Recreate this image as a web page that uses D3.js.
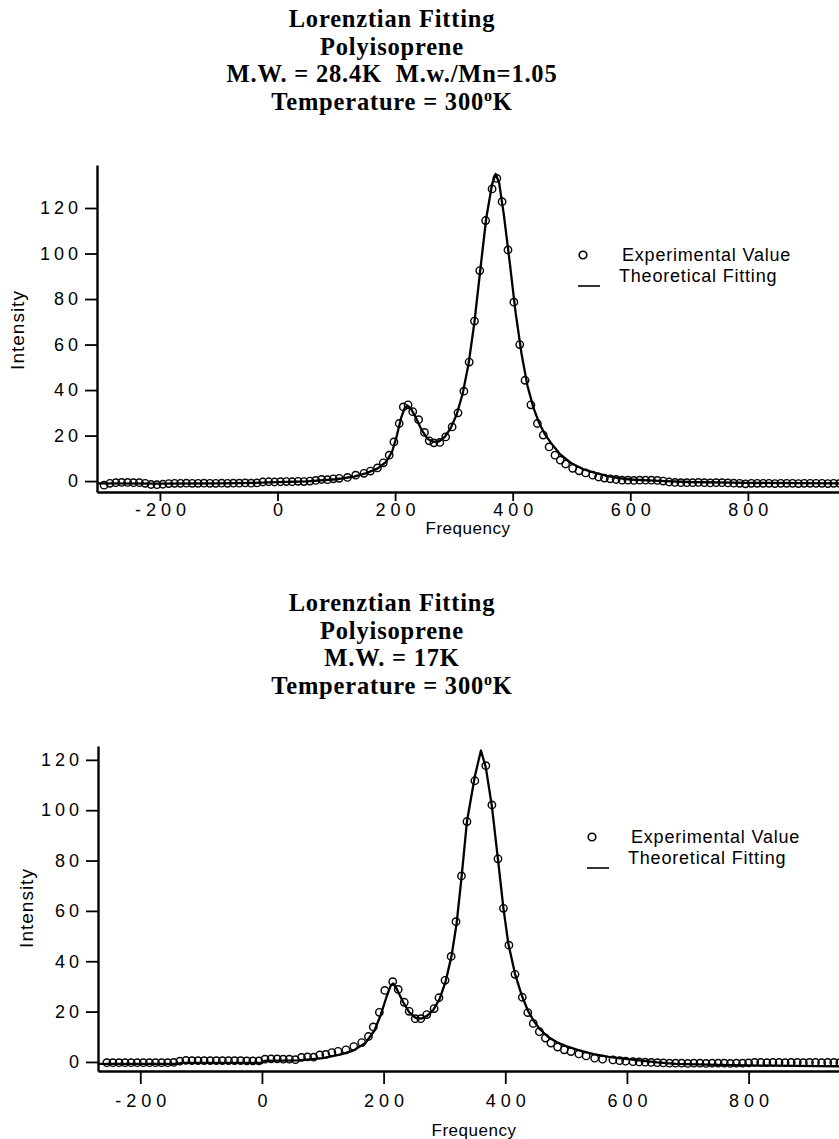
<!DOCTYPE html>
<html>
<head>
<meta charset="utf-8">
<script src="https://cdn.jsdelivr.net/npm/d3@7"></script>
<style>
  body { margin: 0; background: #fff; }
  svg text { font-family: "Liberation Sans", Arial, Helvetica, sans-serif; fill: #000; }
  svg .title text { font-family: "Liberation Serif", "Times New Roman", serif; font-weight: bold; font-size: 24.5px; letter-spacing: 0.8px; }
</style>
</head>
<body>
<svg id="fig" width="839" height="1139"></svg>
<script>
// ── Data ────────────────────────────────────────────────────────────────────
var X_TICKS = [-200, 0, 200, 400, 600, 800];
var Y_TICKS = [0, 20, 40, 60, 80, 100, 120];

var TOP_TITLE = ["Lorenztian Fitting", "Polyisoprene", "M.W. = 28.4K \u00a0M.w./Mn=1.05", "Temperature = 300"];
var BOT_TITLE = ["Lorenztian Fitting", "Polyisoprene", "M.W. = 17K", "Temperature = 300"];

var LEGEND_LABELS = ["Experimental Value", "Theoretical Fitting"];

// top panel: M.W. = 28.4K
var TOP_EXP_F = [
  -295,-285,-275,-265,-255,-245,-235,-225,-215,-205,
  -195,-185,-175,-165,-155,-145,-135,-125,-115,-105,
  -95,-85,-75,-65,-55,-45,-35,-25,-15,-5,
  5,15,25,35,45,55,65,75,85,95,
  105,119,133,147,158,170,180,190,198,207,
  214,222,230,240,250,258,266,276,286,297,
  307,317,326,335,344,354,365,373,382,392,
  402,412,421,431,442,452,462,472,481,490,
  502,513,524,536,546,556,566,576,586,596,
  606,616,626,636,646,656,666,676,686,696,
  706,716,726,736,746,756,766,776,786,796,
  806,816,826,836,846,856,866,876,886,896,
  906,916,926,936,946,956
];
var TOP_EXP_I = [
  -1.8,-1.0,-0.7,-0.6,-0.6,-0.7,-0.7,-1.0,-1.5,-1.6,
  -1.4,-1.1,-1.0,-1.0,-0.9,-1.0,-1.0,-0.9,-1.0,-1.0,
  -0.9,-1.0,-0.9,-0.9,-0.8,-0.9,-0.8,-0.4,-0.3,-0.4,
  -0.3,-0.2,-0.3,-0.1,-0.2,0.0,0.3,0.7,0.6,1.0,
  1.2,1.6,2.6,3.4,4.4,5.8,8.0,11.4,17.2,25.3,
  32.6,33.5,30.5,27.0,21.4,17.7,16.8,17.0,19.4,23.8,
  30.0,39.5,52.3,70.3,92.5,114.5,128.4,133.0,122.8,101.6,
  78.6,60.0,44.3,33.5,25.3,20.2,15.0,11.4,9.2,7.5,
  5.6,4.5,3.6,2.6,1.8,1.3,1.0,0.7,0.4,0.4,
  0.3,0.4,0.4,0.4,0.3,0.0,-0.4,-0.6,-0.7,-0.7,
  -0.7,-0.6,-0.7,-0.8,-0.7,-0.7,-0.8,-0.9,-1.0,-1.2,
  -1.0,-1.0,-1.0,-1.0,-1.1,-1.0,-1.0,-1.0,-1.1,-1.0,
  -1.0,-1.0,-1.0,-1.1,-1.0,-1.0
];
var TOP_FIT_F = [
  -307,-200,-100,-40,0,50,100,130,150,170,
  185,195,203,210,216,221,227,235,245,255,
  265,275,285,295,305,315,325,335,345,355,
  365,371,377,385,395,405,415,425,435,445,
  455,465,480,500,520,540,560,580,600,630,
  660,700,800,955
];
var TOP_FIT_I = [
  -1.0,-1.1,-1.0,-0.8,-0.5,-0.1,0.8,2.0,3.4,5.5,
  8.5,13.0,20.0,27.5,32.0,33.2,31.8,28.0,22.5,18.6,
  17.2,17.5,19.5,23.5,29.5,38.5,51.5,70.0,93.0,115.5,
  130.5,135.0,131.0,117.0,96.0,74.0,56.0,42.0,32.5,25.5,
  20.5,16.8,12.0,7.8,5.2,3.6,2.3,1.3,0.7,0.3,
  0.0,-0.4,-0.8,-1.0
];

// bottom panel: M.W. = 17K
var BOT_EXP_F = [
  -255,-245,-235,-225,-215,-205,-195,-185,-175,-165,
  -155,-145,-135,-125,-115,-105,-95,-85,-75,-65,
  -55,-45,-35,-25,-15,-5,5,15,25,35,
  45,55,65,75,85,95,105,115,125,138,
  151,164,175,183,193,202,215,224,234,242,
  252,261,271,283,291,301,311,319,328,337,
  350,368,378,388,397,406,416,428,437,446,
  456,466,475,486,497,508,521,533,547,560,
  577,588,598,610,620,630,640,650,660,670,
  680,690,700,710,720,730,740,750,760,770,
  780,790,800,810,820,830,840,850,860,870,
  880,890,900,910,920,930,940,950
];
var BOT_EXP_I = [
  -0.3,-0.3,-0.3,-0.3,-0.3,-0.3,-0.3,-0.3,-0.3,-0.3,
  -0.3,-0.2,0.3,0.6,0.5,0.5,0.5,0.5,0.5,0.5,
  0.5,0.5,0.5,0.4,0.4,0.4,1.1,1.2,1.2,1.1,
  1.1,0.9,1.8,2.0,1.9,2.8,3.0,3.7,4.2,4.8,
  6.1,7.7,10.1,13.9,19.7,28.4,31.9,28.8,23.7,20.1,
  17.2,17.2,18.8,21.2,25.5,32.4,41.9,55.7,73.9,95.5,
  111.7,117.7,102.1,80.7,61.0,46.4,34.8,25.7,19.6,15.3,
  12.0,9.5,7.5,5.9,4.8,4.1,3.2,2.4,1.5,1.1,
  0.8,0.5,0.3,0.1,0.0,-0.1,-0.2,-0.3,-0.4,-0.5,
  -0.5,-0.5,-0.6,-0.5,-0.5,-0.6,-0.5,-0.5,-0.5,-0.6,
  -0.5,-0.5,-0.4,-0.2,-0.2,-0.3,-0.2,-0.2,-0.3,-0.2,
  -0.2,-0.3,-0.2,-0.2,-0.3,-0.2,-0.2,-0.3
];
var BOT_FIT_F = [
  -270,-140,-132,0,4,60,100,130,150,170,
  185,195,205,212,216,222,232,242,252,262,
  272,282,292,302,312,320,328,337,350,360,
  368,378,388,397,405,416,427,437,447,457,
  470,485,500,520,545,570,590,620,650,680,
  750,850,949
];
var BOT_FIT_I = [
  -0.8,-0.8,-0.4,-0.4,0.4,0.6,1.5,3.0,4.5,7.5,
  12.5,18.5,26.0,30.5,31.2,28.8,23.8,19.8,17.6,17.2,
  18.4,20.8,25.0,32.0,42.5,55.0,73.0,95.5,113.5,123.7,
  117.0,101.5,80.5,61.0,47.0,35.0,26.5,20.5,16.2,13.0,
  10.0,7.8,6.3,4.7,3.1,2.0,1.4,0.6,-0.2,-0.8,
  -1.2,-1.5,-1.8
];

// ── Drawing ─────────────────────────────────────────────────────────────────
var svg = d3.select("#fig");

function zip(fs, is) {
  return fs.map(function (f, i) { return { f: f, v: is[i] }; });
}

function drawPanel(p) {
  var x = d3.scaleLinear().domain(p.xDomain).range([p.left, 839]);
  var y = d3.scaleLinear().domain(p.yDomain).range([p.bottom, p.top]);

  // title block
  var t = svg.append("g").attr("class", "title").attr("text-anchor", "middle");
  p.title.forEach(function (line, i) {
    var tx = t.append("text").attr("x", 392).attr("y", p.titleY + i * 27.5).text(line);
    if (i === p.title.length - 1) {
      tx.append("tspan").style("font-size", "16px").attr("dy", -9).text("o");
      tx.append("tspan").attr("dy", 9).text("K");
    }
  });

  // axes
  var gx = svg.append("g").attr("transform", "translate(0," + p.bottom + ")")
    .call(d3.axisBottom(x).tickValues(X_TICKS).tickSize(p.xTick).tickSizeOuter(0)
      .tickFormat(function (d) { return d < 0 ? "-" + Math.abs(d) : d; }));
  gx.selectAll("text").attr("dy", null).attr("y", p.xLabelDy)
    .attr("dx", 2.5).style("font-size", "18px").style("letter-spacing", "5px");

  var gy = svg.append("g").attr("transform", "translate(" + p.left + ",0)")
    .call(d3.axisLeft(y).tickValues(Y_TICKS).tickSize(12).tickSizeOuter(0).tickPadding(3));
  gy.selectAll("text").style("font-size", "18px").style("letter-spacing", "4px");

  [gx, gy].forEach(function (g) {
    g.select(".domain").attr("stroke", "#000").attr("stroke-width", 2.4);
    g.selectAll(".tick line").attr("stroke", "#000").attr("stroke-width", 1.8);
  });

  svg.append("text").attr("x", p.freqX).attr("y", p.freqY).attr("text-anchor", "middle")
    .style("font-size", "17px").style("letter-spacing", "0.5px").text("Frequency");
  svg.append("text")
    .attr("transform", "translate(" + p.intX + "," + p.intY + ") rotate(-90)")
    .attr("text-anchor", "middle").style("font-size", "19px").style("letter-spacing", "1px")
    .text("Intensity");

  // fitted curve
  var line = d3.line().x(function (d) { return x(d.f); }).y(function (d) { return y(d.v); });
  svg.append("path").datum(zip(p.fitF, p.fitI))
    .attr("d", line).attr("fill", "none").attr("stroke", "#000")
    .attr("stroke-width", 2.3).attr("stroke-linejoin", "round");

  // experimental points
  svg.append("g").selectAll("circle").data(zip(p.expF, p.expI)).join("circle")
    .attr("cx", function (d) { return x(d.f); })
    .attr("cy", function (d) { return y(d.v); })
    .attr("r", 3.7).attr("fill", "none").attr("stroke", "#000").attr("stroke-width", 1.4);

  // legend
  var lg = svg.append("g").attr("transform", "translate(" + p.legX + "," + p.legY + ")");
  lg.append("circle").attr("cx", 0).attr("cy", -6).attr("r", 3.8)
    .attr("fill", "none").attr("stroke", "#000").attr("stroke-width", 1.6);
  lg.append("text").attr("x", 39).attr("y", 0).style("font-size", "18px")
    .style("letter-spacing", "0.8px").text(LEGEND_LABELS[0]);
  lg.append("line").attr("x1", -5).attr("x2", 17).attr("y1", 25).attr("y2", 25)
    .attr("stroke", "#000").attr("stroke-width", 1.6);
  lg.append("text").attr("x", 36).attr("y", 21).style("font-size", "18px")
    .style("letter-spacing", "0.8px").text(LEGEND_LABELS[1]);
}

drawPanel({
  title: TOP_TITLE, titleY: 27,
  left: 97, top: 165, bottom: 492,
  xDomain: [-307, 955], yDomain: [-4.8, 138.9],
  xTick: 9, xLabelDy: 24,
  freqX: 468, freqY: 534, intX: 24, intY: 330,
  legX: 583, legY: 261,
  expF: TOP_EXP_F, expI: TOP_EXP_I, fitF: TOP_FIT_F, fitI: TOP_FIT_I
});

drawPanel({
  title: BOT_TITLE, titleY: 611,
  left: 98, top: 746, bottom: 1071,
  xDomain: [-269.5, 948.6], yDomain: [-3.6, 125.5],
  xTick: 13, xLabelDy: 36,
  freqX: 474, freqY: 1136, intX: 33, intY: 908,
  legX: 592, legY: 843,
  expF: BOT_EXP_F, expI: BOT_EXP_I, fitF: BOT_FIT_F, fitI: BOT_FIT_I
});
</script>
</body>
</html>
